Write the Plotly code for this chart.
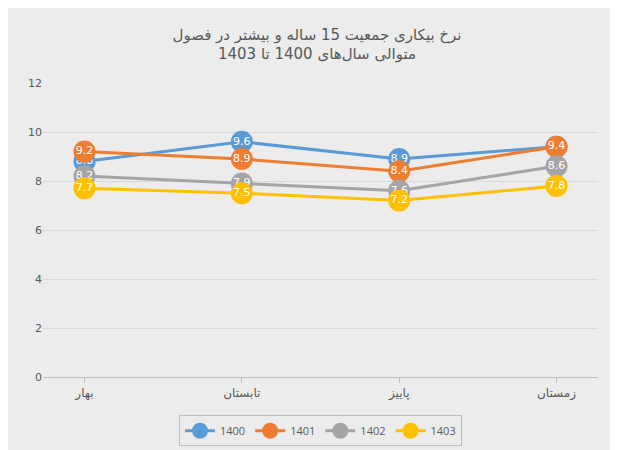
import plotly.graph_objects as go

categories = ["بهار", "تابستان", "پاییز", "زمستان"]
series_names = ["1400", "1401", "1402", "1403"]
v1400 = [8.8, 9.6, 8.9, 9.4]
v1401 = [9.2, 8.9, 8.4, 9.4]
v1402 = [8.2, 7.9, 7.6, 8.6]
v1403 = [7.7, 7.5, 7.2, 7.8]
values = [v1400, v1401, v1402, v1403]
colors = ["#5b9bd5", "#ed7d31", "#a5a5a5", "#ffc000"]

fig = go.Figure()
for name, vals, c in zip(series_names, values, colors):
    fig.add_trace(go.Scatter(
        x=categories, y=vals, name=name, mode="lines+markers+text",
        text=[f"{v:.1f}" for v in vals], textposition="middle center",
        textfont=dict(color="white", size=11, family="DejaVu Sans"),
        line=dict(color=c, width=3), marker=dict(size=22, color=c)))

fig.update_layout(
    width=618, height=450,
    paper_bgcolor="#ececec", plot_bgcolor="#ececec",
    margin=dict(l=35, r=28, t=75, b=72),
    title=dict(text="نرخ بیکاری جمعیت 15 ساله و بیشتر در فصول<br>متوالی سال‌های 1400 تا 1403",
               x=0.5, y=0.93, xanchor="center",
               font=dict(size=15, color="#595959", family="DejaVu Sans")),
    xaxis=dict(showline=True, linecolor="#bfbfbf", showgrid=False,
               ticks="outside", tickcolor="#bfbfbf",
               tickfont=dict(size=12, color="#595959", family="DejaVu Sans")),
    yaxis=dict(range=[0, 12], dtick=2, gridcolor="#d9d9d9", zeroline=False,
               tickfont=dict(size=11, color="#595959", family="DejaVu Sans")),
    legend=dict(orientation="h", x=0.5, xanchor="center", y=-0.13, yanchor="top",
                bordercolor="#bfbfbf", borderwidth=1, bgcolor="#ececec",
                font=dict(size=11, color="#595959")),
)
fig.write_html("out.html")
